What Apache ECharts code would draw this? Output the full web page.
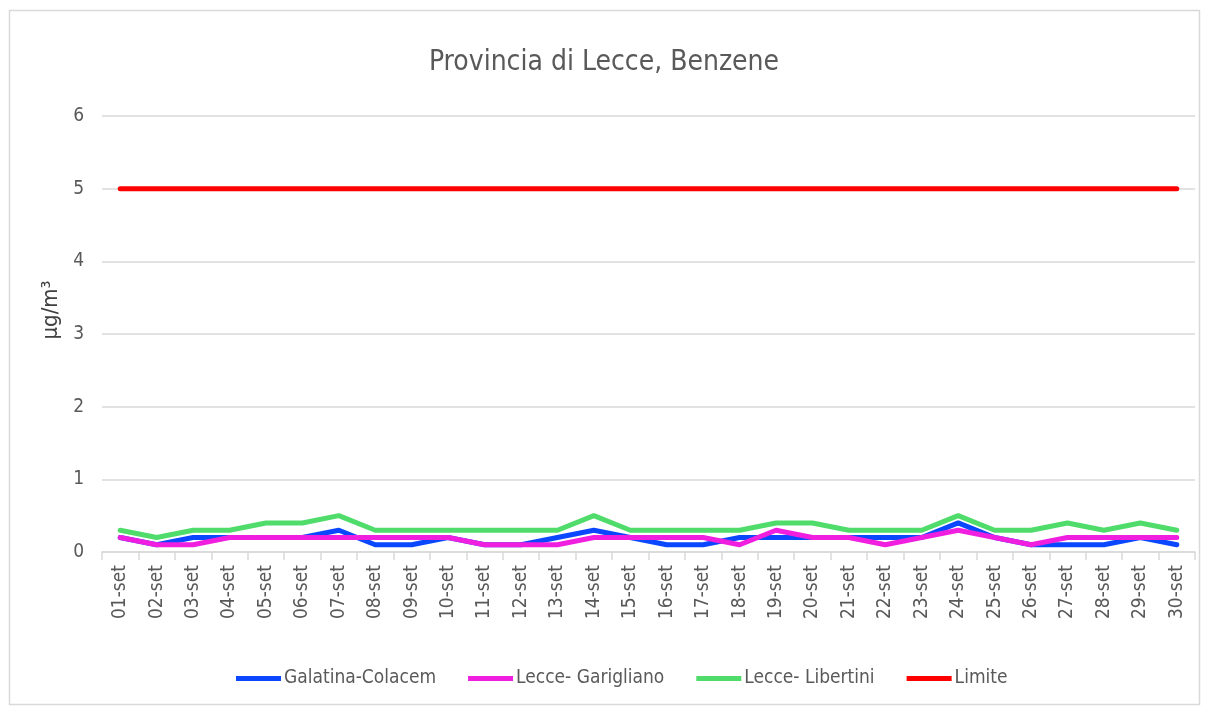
<!DOCTYPE html>
<html>
<head>
<meta charset="utf-8">
<script src="https://cdn.jsdelivr.net/npm/echarts@6/dist/echarts.min.js"></script>
<style>
  html, body { margin: 0; padding: 0; background: #fff; }
  #chart { width: 1208px; height: 713px; }
</style>
</head>
<body>
<div id="chart"></div>
<script>
// giorni di settembre
var giorni = ['01-set','02-set','03-set','04-set','05-set','06-set','07-set','08-set','09-set','10-set',
              '11-set','12-set','13-set','14-set','15-set','16-set','17-set','18-set','19-set','20-set',
              '21-set','22-set','23-set','24-set','25-set','26-set','27-set','28-set','29-set','30-set'];

var galatinaColacem = [0.2,0.1,0.2,0.2,0.2,0.2,0.3,0.1,0.1,0.2,
                       0.1,0.1,0.2,0.3,0.2,0.1,0.1,0.2,0.2,0.2,
                       0.2,0.2,0.2,0.4,0.2,0.1,0.1,0.1,0.2,0.1];
var lecceGarigliano = [0.2,0.1,0.1,0.2,0.2,0.2,0.2,0.2,0.2,0.2,
                       0.1,0.1,0.1,0.2,0.2,0.2,0.2,0.1,0.3,0.2,
                       0.2,0.1,0.2,0.3,0.2,0.1,0.2,0.2,0.2,0.2];
var lecceLibertini = [0.3,0.2,0.3,0.3,0.4,0.4,0.5,0.3,0.3,0.3,
                      0.3,0.3,0.3,0.5,0.3,0.3,0.3,0.3,0.4,0.4,
                      0.3,0.3,0.3,0.5,0.3,0.3,0.4,0.3,0.4,0.3];
var limite = [5,5,5,5,5,5,5,5,5,5,5,5,5,5,5,5,5,5,5,5,5,5,5,5,5,5,5,5,5,5];

var nomi = ['Galatina-Colacem', 'Lecce- Garigliano', 'Lecce- Libertini', 'Limite'];
var colori = ['#0b47ff', '#f01fe0', '#50dc6a', '#ff0000'];
var valori = [galatinaColacem, lecceGarigliano, lecceLibertini, limite];

var font = '"Liberation Sans Narrow", "DejaVu Sans Condensed", sans-serif';

var myChart = echarts.init(document.getElementById('chart'));

var series = nomi.map(function (n, i) {
  return {
    name: n,
    type: 'line',
    data: valori[i],
    symbol: 'none',
    lineStyle: { color: colori[i], width: 5, cap: 'round', join: 'round' },
    itemStyle: { color: colori[i] },
    animation: false
  };
});

myChart.setOption({
  animation: false,
  title: {
    text: 'Provincia di Lecce, Benzene',
    left: 'center',
    top: 44,
    textStyle: { fontFamily: font, fontSize: 28, fontWeight: 'normal', color: '#595959' }
  },
  graphic: [{
    type: 'rect',
    shape: { x: 9.5, y: 10.5, width: 1190, height: 694 },
    style: { fill: 'none', stroke: '#d9d9d9', lineWidth: 1.5 },
    silent: true
  }],
  legend: {
    data: nomi,
    bottom: 20,
    left: 231,
    itemWidth: 45,
    itemHeight: 5,
    itemGap: 32,
    icon: 'rect',
    textStyle: { fontFamily: font, fontSize: 19, color: '#595959', padding: [0, 0, 0, -2] }
  },
  grid: {
    left: 102,
    right: 13,
    top: 116,
    bottom: 161
  },
  xAxis: {
    type: 'category',
    data: giorni,
    boundaryGap: true,
    axisLine: { lineStyle: { color: '#d9d9d9', width: 1.5 } },
    axisTick: { show: true, length: 8, lineStyle: { color: '#d9d9d9', width: 1.5 } },
    axisLabel: {
      interval: 0,
      rotate: 90,
      margin: 13,
      fontFamily: font,
      fontSize: 19,
      color: '#595959'
    }
  },
  yAxis: {
    type: 'value',
    min: 0,
    max: 6,
    interval: 1,
    name: 'µg/m³',
    nameLocation: 'middle',
    nameGap: 30,
    nameRotate: 90,
    nameTextStyle: { fontFamily: font, fontSize: 22, color: '#404040', padding: [0, 0, 0, 48] },
    axisLine: { show: false },
    axisTick: { show: false },
    axisLabel: { fontFamily: font, fontSize: 19, color: '#595959', margin: 18 },
    splitLine: { lineStyle: { color: '#d9d9d9', width: 1.5 } }
  },
  series: series
});
</script>
</body>
</html>
